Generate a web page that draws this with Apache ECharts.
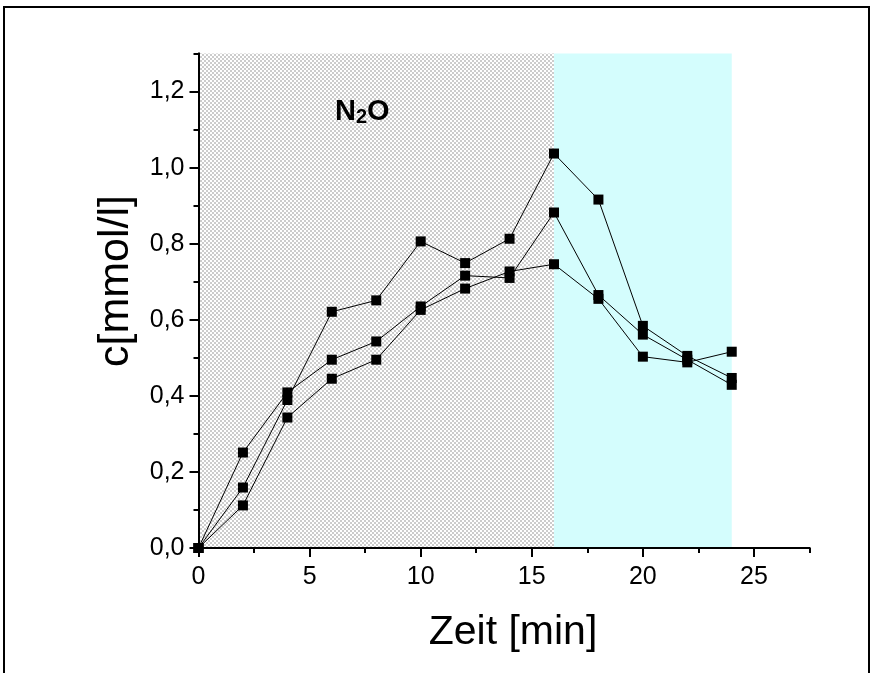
<!DOCTYPE html>
<html>
<head>
<meta charset="utf-8">
<script src="https://cdn.jsdelivr.net/npm/echarts@6/dist/echarts.min.js"></script>
<style>
  html, body { margin: 0; padding: 0; background: #fff; }
  #main { width: 875px; height: 673px; }
</style>
</head>
<body>
<div id="main"></div>
<script>
// Zeit in min
var zeit = [0, 2, 4, 6, 8, 10, 12, 14, 16, 18, 20, 22, 24];
// drei Messreihen, c in mmol/l
var reihe1 = [0, 0.159, 0.389, 0.621, 0.651, 0.806, 0.749, 0.813, 1.037, 0.916, 0.584, 0.505, 0.447];
var reihe2 = [0, 0.251, 0.409, 0.495, 0.543, 0.635, 0.716, 0.710, 0.882, 0.665, 0.561, 0.495, 0.429];
var reihe3 = [0, 0.112, 0.343, 0.445, 0.495, 0.626, 0.682, 0.727, 0.746, 0.655, 0.503, 0.488, 0.516];
// Phasen: N2O-Begasung, danach Spuelung
var phaseN2O = [0, 16];
var phaseSpuel = [16, 24];
// beschriftete Achsenwerte
var xTicks = [0, 5, 10, 15, 20, 25];
var yTicks = [0, 0.2, 0.4, 0.6, 0.8, 1.0, 1.2];

function pairs(ys) {
  var d = [];
  for (let i = 0; i < zeit.length; i++) {
    d.push([zeit[i], ys[i]]);
  }
  return d;
}

// feines Schachbrettmuster fuer den grauen Bereich
var pat = document.createElement('canvas');
pat.width = 4;
pat.height = 4;
var pctx = pat.getContext('2d');
pctx.fillStyle = '#ffffff';
pctx.fillRect(0, 0, 4, 4);
pctx.fillStyle = '#cccccc';
pctx.fillRect(0, 0, 2, 2);
pctx.fillRect(2, 2, 2, 2);

var chart = echarts.init(document.getElementById('main'));

function serie(ys, withArea) {
  var s = {
    type: 'line',
    data: pairs(ys),
    symbol: 'rect',
    symbolSize: 10,
    lineStyle: { color: '#000', width: 1 },
    itemStyle: { color: '#000' },
    animation: false
  };
  if (withArea) {
    s.markArea = {
      silent: true,
      data: [
        [{ xAxis: phaseN2O[0], itemStyle: { color: { image: pat, repeat: 'repeat' } } }, { xAxis: phaseN2O[1] }],
        [{ xAxis: phaseSpuel[0], itemStyle: { color: '#d4fdfd' } }, { xAxis: phaseSpuel[1] }]
      ]
    };
  }
  return s;
}

var lineBlack = { show: true, lineStyle: { color: '#000', width: 2 } };

var option = {
  backgroundColor: '#fff',
  animation: false,
  grid: { left: 198.5, right: 65.5, top: 53.5, bottom: 125 },
  xAxis: [
    {
      // kurze Striche alle 2,5 min
      type: 'value',
      position: 'bottom',
      z: 10,
      min: 0,
      max: 27.5,
      interval: 2.5,
      axisLine: lineBlack,
      axisTick: { show: true, length: 5, lineStyle: { color: '#000', width: 2 } },
      axisLabel: { show: false },
      splitLine: { show: false }
    },
    {
      // lange Striche mit Beschriftung
      type: 'value',
      position: 'bottom',
      z: 11,
      min: 0,
      max: 27.5,
      axisLine: lineBlack,
      axisTick: { show: true, length: 9, customValues: xTicks, lineStyle: { color: '#000', width: 2 } },
      axisLabel: {
        color: '#000',
        fontFamily: 'Liberation Sans',
        fontSize: 25,
        margin: 17,
        customValues: xTicks
      },
      splitLine: { show: false }
    }
  ],
  yAxis: [
    {
      type: 'value',
      position: 'left',
      z: 10,
      min: 0,
      max: 1.3,
      interval: 0.1,
      axisLine: lineBlack,
      axisTick: { show: true, length: 5, lineStyle: { color: '#000', width: 2 } },
      axisLabel: { show: false },
      splitLine: { show: false }
    },
    {
      type: 'value',
      position: 'left',
      z: 11,
      min: 0,
      max: 1.3,
      axisLine: lineBlack,
      axisTick: { show: true, length: 9, customValues: yTicks, lineStyle: { color: '#000', width: 2 } },
      axisLabel: {
        color: '#000',
        fontFamily: 'Liberation Sans',
        fontSize: 25,
        margin: 14,
        customValues: yTicks,
        formatter: function (v) { return v.toFixed(1).replace('.', ','); }
      },
      splitLine: { show: false }
    }
  ],
  graphic: [
    {
      type: 'rect',
      shape: { x: 4, y: 7, width: 865, height: 700 },
      style: { fill: null, stroke: '#000', lineWidth: 2 },
      silent: true
    },
    {
      // Achsentitel x
      type: 'text',
      x: 513,
      y: 633,
      style: {
        text: 'Zeit [min]',
        fontFamily: 'Liberation Sans',
        fontSize: 41,
        fill: '#000',
        align: 'center',
        verticalAlign: 'middle'
      }
    },
    {
      // Achsentitel y
      type: 'text',
      x: 116,
      y: 281,
      rotation: Math.PI / 2,
      style: {
        text: 'c[mmol/l]',
        fontFamily: 'Liberation Sans',
        fontSize: 43,
        fill: '#000',
        align: 'center',
        verticalAlign: 'middle'
      }
    },
    {
      type: 'text',
      left: 335,
      top: 97,
      z: 10,
      style: {
        text: 'N{sub|2}O',
        fontFamily: 'Liberation Sans',
        fontWeight: 'bold',
        fontSize: 29,
        fill: '#000',
        rich: {
          sub: { fontFamily: 'Liberation Sans', fontWeight: 'bold', fontSize: 20, verticalAlign: 'bottom', padding: [11, 0, 0, 0] }
        }
      }
    }
  ],
  series: [serie(reihe1, true), serie(reihe2, false), serie(reihe3, false)]
};

chart.setOption(option);
</script>
</body>
</html>
